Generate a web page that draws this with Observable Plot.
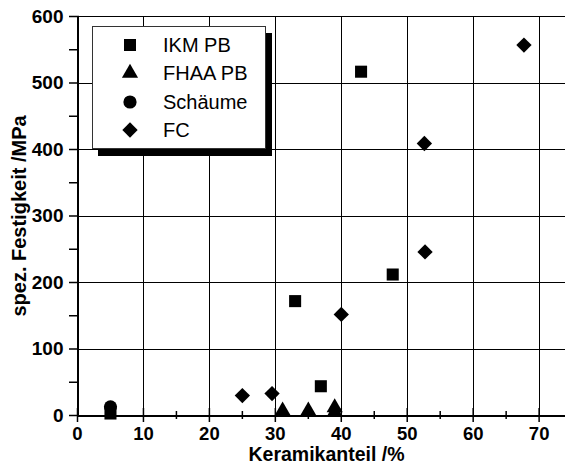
<!DOCTYPE html>
<html><head><meta charset="utf-8">
<script src="https://cdn.jsdelivr.net/npm/d3@7"></script>
<script src="https://cdn.jsdelivr.net/npm/@observablehq/plot@0.6"></script>
<style>
html,body{margin:0;padding:0;background:#fff;overflow:hidden}
#wrap{position:relative;width:565px;height:464px}
#legend{position:absolute;left:92px;top:26px;width:172px;height:121px;background:#fff;border:1px solid #333;box-shadow:6px 7px 0 #000;font-family:"Liberation Sans",Arial,Helvetica,sans-serif;font-size:20px;color:#000}
.row{position:absolute;left:0;height:28px;display:flex;align-items:center}
.row svg{position:absolute;left:27px;top:4px}
.row span{position:absolute;left:70px;white-space:nowrap;line-height:28px;top:0}
</style></head><body><div id="wrap"></div>
<script>
// ----- data -----
const seriesNames = ["IKM PB", "FHAA PB", "Schäume", "FC"];
const ikmX = [5, 33.0, 36.9, 43.0, 47.8];
const ikmY = [3, 172, 44, 517, 212];
const fhaaX = [31.1, 35.0, 39.0, 39.0];
const fhaaY = [7, 7, 12, 5];
const schaumX = [5];
const schaumY = [13];
const fcX = [25.0, 29.5, 40.0, 52.6, 52.7, 67.7];
const fcY = [30, 33, 152, 409, 246, 557];
const xTicks = [0, 10, 20, 30, 40, 50, 60, 70];
const xMinor = [5, 15, 25, 35, 45, 55, 65];
const yTicks = [0, 100, 200, 300, 400, 500, 600];
const yMinor = [50, 150, 250, 350, 450, 550];
const xLabel = "Keramikanteil /%";
const yLabel = "spez. Festigkeit /MPa";

// ----- build -----
const seriesData = [
  {name: seriesNames[0], xs: ikmX, ys: ikmY, symbol: "square", d3sym: d3.symbolSquare, r: 6.8},
  {name: seriesNames[1], xs: fhaaX, ys: fhaaY, symbol: "triangle", d3sym: d3.symbolTriangle, r: 6},
  {name: seriesNames[2], xs: schaumX, ys: schaumY, symbol: "circle", d3sym: d3.symbolCircle, r: 6.6},
  {name: seriesNames[3], xs: fcX, ys: fcY, symbol: "diamond2", d3sym: d3.symbolDiamond2, r: 6.9}
];
const rows = s => s.xs.map((x, i) => ({x, y: s.ys[i], series: s.name}));
const font = '"Liberation Sans", Arial, Helvetica, sans-serif';
const crisp = {shapeRendering: "crispEdges"};

const chart = Plot.plot({
  width: 565, height: 464,
  marginLeft: 77, marginRight: 0, marginTop: 16, marginBottom: 49,
  x: {domain: [0, 74], label: null},
  y: {domain: [0, 600], label: null},
  style: {fontFamily: font, background: "white", color: "black", overflow: "visible"},
  marks: [
    Plot.ruleX(xTicks.slice(1), {stroke: "black", strokeWidth: 1, ...crisp}),
    Plot.ruleY(yTicks.slice(1), {stroke: "black", strokeWidth: 1, ...crisp}),
    Plot.ruleX([0], {stroke: "black", strokeWidth: 2, ...crisp}),
    Plot.ruleY([0], {stroke: "black", strokeWidth: 2, ...crisp}),
    Plot.axisX(xTicks, {tickSize: 14, dy: -7, fill: "none", label: null, strokeWidth: 1.5}),
    Plot.axisX(xMinor, {tickSize: 8, dy: -4, fill: "none", label: null, strokeWidth: 1.5}),
    Plot.axisX(xTicks, {tickSize: 0, tickPadding: 11, fontSize: 18.5, fontWeight: "bold", label: null}),
    Plot.axisY(yTicks, {tickSize: 10, dx: 2, fill: "none", label: null, strokeWidth: 1.5}),
    Plot.axisY(yMinor, {tickSize: 10, dx: 2, fill: "none", label: null, strokeWidth: 1.5}),
    Plot.axisY(yTicks, {tickSize: 0, tickPadding: 14, fontSize: 19, fontWeight: "bold", label: null}),
    ...seriesData.map(s => Plot.dot(rows(s), {x: "x", y: "y", symbol: () => s.symbol, r: s.r, fill: "black", stroke: "none"})),
    Plot.text([xLabel], {text: d => d, frameAnchor: "bottom", dx: 5, dy: 45, lineAnchor: "bottom", fontSize: 19.5, fontWeight: "bold"}),
    Plot.text([yLabel], {text: d => d, frameAnchor: "left", rotate: -90, dx: -52, lineAnchor: "bottom", textAnchor: "middle", fontSize: 20, fontWeight: "bold"})
  ]
});
const wrap = document.getElementById("wrap");
wrap.appendChild(chart);

// legend overlay
const legend = document.createElement("div");
legend.id = "legend";
const rowTops = [4, 32, 61, 89];
seriesData.forEach((s, i) => {
  const row = document.createElement("div");
  row.className = "row";
  row.style.top = rowTops[i] + "px";
  const path = d3.symbol().type(s.d3sym).size(s.r * s.r * Math.PI)();
  row.innerHTML = `<svg width="20" height="20" viewBox="-10 -10 20 20"><path d="${path}" fill="black"/></svg><span>${s.name}</span>`;
  legend.appendChild(row);
});
wrap.appendChild(legend);
</script>
</body></html>
